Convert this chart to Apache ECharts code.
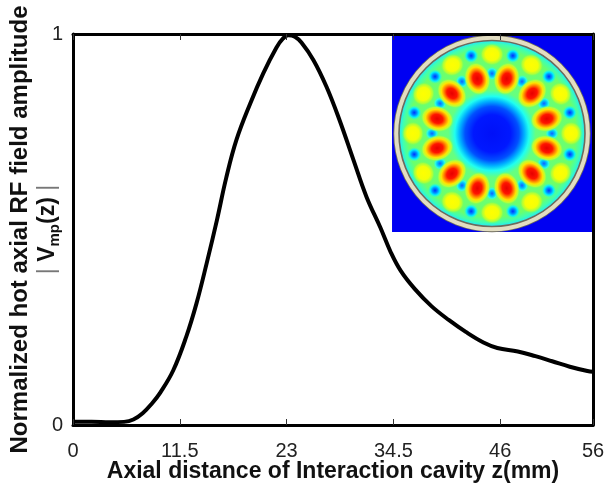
<!DOCTYPE html>
<html>
<head>
<meta charset="utf-8">
<script src="https://cdn.jsdelivr.net/npm/echarts@6/dist/echarts.min.js"></script>
<style>
  html, body { margin: 0; padding: 0; background: #ffffff; }
  #chart { width: 604px; height: 488px; }
</style>
</head>
<body>
<div id="chart"></div>
<script>
// Axial profile of the hot RF field along the interaction cavity
const zPositions = [0, 2, 4, 5.5, 6.5, 7.5, 8.5, 9.4, 10.8, 12.2, 13.3, 14.4, 15.5, 16.5, 17.6, 19.1, 20.5, 21.9, 22.6, 23.2, 23.9, 24.6, 25.9, 27.3, 28.7, 30.2, 31.6, 33.1, 34.2, 35.3, 36.8, 38.6, 40.5, 42.3, 44.2, 45.7, 47.9, 49.8, 51.6, 53.5, 55.4, 56];
const fieldAmplitude = [0.008, 0.008, 0.007, 0.008, 0.014, 0.03, 0.055, 0.083, 0.14, 0.226, 0.311, 0.414, 0.524, 0.632, 0.729, 0.823, 0.9, 0.965, 0.988, 0.997, 0.993, 0.978, 0.933, 0.865, 0.78, 0.678, 0.584, 0.505, 0.443, 0.394, 0.348, 0.304, 0.268, 0.238, 0.211, 0.197, 0.188, 0.176, 0.163, 0.149, 0.138, 0.136];

const xTickValues = [0, 11.5, 23, 34.5, 46, 56];
const yTickValues = [0, 1];

// Cavity cross-section inset: field lobes as [normalized radius, azimuth in degrees]
const redLobeAngles = [15, 45, 75, 105, 135, 165, 195, 225, 255, 285, 315, 345];
const redLobeRadius = 0.61;
const innerNullAngles = [0, 30, 60, 90, 120, 150, 180, 210, 240, 270, 300, 330];
const innerNullRadius = 0.645;
const outerLobeAngles = [0, 30, 60, 90, 120, 150, 180, 210, 240, 270, 300, 330];
const outerLobeRadius = 0.85;
const outerNullAngles = [15, 45, 75, 105, 135, 165, 195, 225, 255, 285, 315, 345];
const outerNullRadius = 0.866;

const FONT = '"Liberation Sans", Arial, Helvetica, sans-serif';

const toPolar = (radius, angles) => angles.map(a => [radius, a]);

function lobeRenderer(look) {
  return function (params, api) {
    const r = api.value(0);
    const a = api.value(1);
    const p = api.coord([r, a]);
    const c = api.coord([0, 0]);
    const e = api.coord([1, 0]);
    const R = e[0] - c[0];
    return {
      type: 'circle',
      x: p[0],
      y: p[1],
      rotation: a * Math.PI / 180,
      scaleX: look.radial * R / 10,
      scaleY: look.tangential * R / 10,
      shape: { cx: 0, cy: 0, r: 10 },
      style: {
        fill: { type: 'radial', x: 0.5, y: 0.5, r: 0.5, colorStops: look.stops }
      }
    };
  };
}

const redLook = {
  radial: 0.18, tangential: 0.14,
  stops: [
    { offset: 0, color: '#e60000' },
    { offset: 0.34, color: '#ff1400' },
    { offset: 0.52, color: '#ff8000' },
    { offset: 0.7, color: '#ffe400' },
    { offset: 0.86, color: 'rgba(205,255,40,0.8)' },
    { offset: 1, color: 'rgba(110,255,90,0)' }
  ]
};
const outerLobeLook = {
  radial: 0.12, tangential: 0.13,
  stops: [
    { offset: 0, color: '#ffff00' },
    { offset: 0.55, color: '#f4ff08' },
    { offset: 0.8, color: 'rgba(195,255,40,0.75)' },
    { offset: 1, color: 'rgba(110,255,90,0)' }
  ]
};
const outerNullLook = {
  radial: 0.08, tangential: 0.08,
  stops: [
    { offset: 0, color: '#0030ff' },
    { offset: 0.35, color: '#0090ff' },
    { offset: 0.62, color: '#00eeff' },
    { offset: 1, color: 'rgba(60,255,200,0)' }
  ]
};
const innerNullLook = {
  radial: 0.075, tangential: 0.07,
  stops: [
    { offset: 0, color: '#1060ff' },
    { offset: 0.4, color: '#00c0ff' },
    { offset: 0.7, color: '#30ffe0' },
    { offset: 1, color: 'rgba(80,255,150,0)' }
  ]
};

function backgroundRenderer(params, api) {
  const c = api.coord([0, 0]);
  const e = api.coord([1, 0]);
  const R = e[0] - c[0];
  return {
    type: 'group',
    children: [
      {
        type: 'rect',
        shape: { x: c[0] - 1.075 * R, y: c[1] - 1.06 * R, width: 2.15 * R, height: 2.12 * R },
        style: { fill: '#0000f2' }
      },
      {
        type: 'circle',
        shape: { cx: c[0], cy: c[1], r: R },
        style: {
          fill: {
            type: 'radial', x: 0.5, y: 0.5, r: 0.5,
            colorStops: [
              { offset: 0, color: '#0010f8' },
              { offset: 0.2, color: '#0018ff' },
              { offset: 0.29, color: '#0050ff' },
              { offset: 0.35, color: '#00b4ff' },
              { offset: 0.40, color: '#20fff0' },
              { offset: 0.47, color: '#66ff80' },
              { offset: 0.9, color: '#6cff6a' },
              { offset: 0.96, color: '#40ffb0' },
              { offset: 1, color: '#20e8ff' }
            ]
          }
        }
      }
    ]
  };
}

function ringRenderer(params, api) {
  const c = api.coord([0, 0]);
  const e = api.coord([1, 0]);
  const R = e[0] - c[0];
  return {
    type: 'group',
    children: [
      { type: 'circle', shape: { cx: c[0], cy: c[1], r: R * 1.026 }, style: { fill: 'none', stroke: '#6d6b5c', lineWidth: 6.5 } },
      { type: 'circle', shape: { cx: c[0], cy: c[1], r: R * 1.03 }, style: { fill: 'none', stroke: '#e2ddc2', lineWidth: 4 } }
    ]
  };
}

const insetSeries = (name, data, renderItem) => ({
  name, type: 'custom', coordinateSystem: 'polar', polarIndex: 0,
  data, renderItem, silent: true, animation: false, z: 1
});

const chart = echarts.init(document.getElementById('chart'), null, { renderer: 'canvas' });

chart.setOption({
  backgroundColor: '#ffffff',
  animation: false,
  textStyle: { fontFamily: FONT },
  grid: { left: 73, right: 11, top: 34, bottom: 63, containLabel: false, outerBoundsMode: 'none' },
  polar: { center: [492, 133.5], radius: 93 },
  angleAxis: { type: 'value', min: 0, max: 360, startAngle: 0, clockwise: false, show: false },
  radiusAxis: { type: 'value', min: 0, max: 1, show: false },
  xAxis: [
    {
      type: 'value', position: 'bottom', min: 0, max: 56, z: 10,
      name: 'Axial distance of Interaction cavity z(mm)',
      nameLocation: 'middle', nameGap: 35, nameMoveOverlap: false,
      nameTextStyle: { fontFamily: FONT, fontSize: 23, fontWeight: 'bold', color: '#111' },
      axisLine: { show: true, onZero: false, lineStyle: { color: '#000', width: 3 } },
      axisTick: { show: true, inside: true, length: 6, customValues: xTickValues, lineStyle: { color: '#333', width: 1 } },
      axisLabel: { customValues: xTickValues, fontFamily: FONT, fontSize: 20, color: '#222', margin: 16 },
      splitLine: { show: false }
    },
    {
      type: 'value', position: 'top', min: 0, max: 56, z: 10,
      axisLine: { show: true, onZero: false, lineStyle: { color: '#000', width: 3 } },
      axisTick: { show: true, inside: true, length: 6, customValues: xTickValues, lineStyle: { color: '#333', width: 1 } },
      axisLabel: { show: false },
      splitLine: { show: false }
    }
  ],
  yAxis: [
    {
      type: 'value', position: 'left', min: 0, max: 1, z: 10,
      name: '{t|Normalized hot axial RF field amplitude}\n{bar|| }{v|V}{s|mp}{v|(z)}{bar| |}',
      nameLocation: 'middle', nameGap: 11, nameRotate: 90, nameMoveOverlap: false,
      nameTextStyle: {
        fontFamily: FONT, color: '#111',
        rich: {
          t: { fontFamily: FONT, fontSize: 24, fontWeight: 'bold', color: '#111', lineHeight: 28 },
          v: { fontFamily: FONT, fontSize: 23, fontWeight: 'bold', color: '#111', lineHeight: 28 },
          s: { fontFamily: FONT, fontSize: 15, fontWeight: 'bold', color: '#111', lineHeight: 14, verticalAlign: 'bottom' },
          bar: { fontFamily: FONT, fontSize: 23, fontWeight: 'normal', color: '#777', lineHeight: 28 }
        }
      },
      axisLine: { show: true, onZero: false, lineStyle: { color: '#000', width: 3 } },
      axisTick: { show: false },
      axisLabel: { customValues: yTickValues, fontFamily: FONT, fontSize: 20, color: '#222', margin: 10 },
      splitLine: { show: false }
    },
    {
      type: 'value', position: 'right', min: 0, max: 1, z: 10,
      axisLine: { show: true, onZero: false, lineStyle: { color: '#000', width: 3 } },
      axisTick: { show: false },
      axisLabel: { show: false },
      splitLine: { show: false }
    }
  ],
  series: [
    insetSeries('cavity', [[0, 0]], backgroundRenderer),
    insetSeries('innerNulls', toPolar(innerNullRadius, innerNullAngles), lobeRenderer(innerNullLook)),
    insetSeries('outerLobes', toPolar(outerLobeRadius, outerLobeAngles), lobeRenderer(outerLobeLook)),
    insetSeries('outerNulls', toPolar(outerNullRadius, outerNullAngles), lobeRenderer(outerNullLook)),
    insetSeries('redLobes', toPolar(redLobeRadius, redLobeAngles), lobeRenderer(redLook)),
    insetSeries('wall', [[0, 0]], ringRenderer),
    {
      name: '|Vmp(z)|', type: 'line', xAxisIndex: 0, yAxisIndex: 0,
      data: zPositions.map((z, i) => [z, fieldAmplitude[i]]),
      showSymbol: false, smooth: 0.4, z: 3,
      lineStyle: { color: '#000', width: 4 }
    }
  ]
});
</script>
</body>
</html>
